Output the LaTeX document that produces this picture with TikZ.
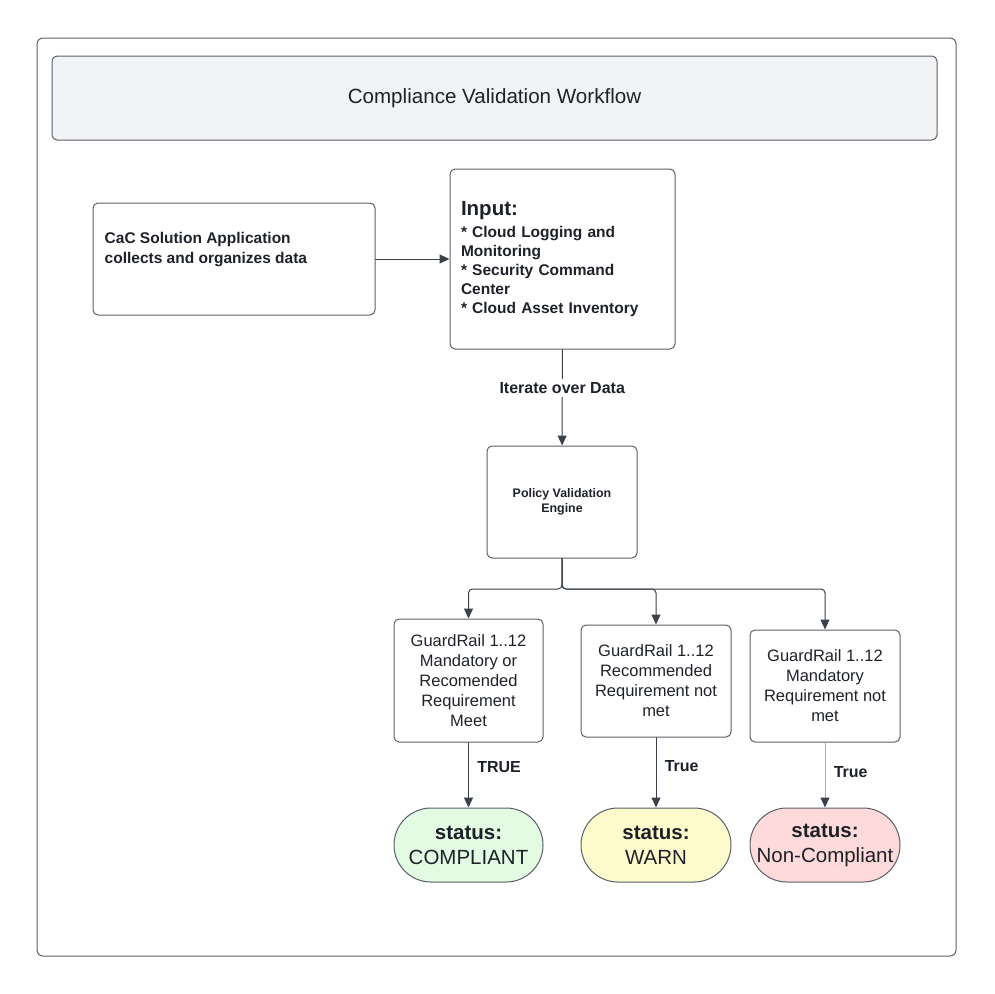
\documentclass[tikz,border=0pt]{standalone}
\usepackage{fontspec}
\setmainfont{Liberation Sans}
\usetikzlibrary{arrows.meta}
\definecolor{linec}{HTML}{3A414A}
\definecolor{faintc}{HTML}{A9ADB2}
\definecolor{boxc}{HTML}{5A5F66}
\definecolor{txtc}{HTML}{1E2228}
\definecolor{titlefill}{HTML}{F2F3F5}
\definecolor{okfill}{HTML}{E3FAE3}
\definecolor{warnfill}{HTML}{FDFBCB}
\definecolor{badfill}{HTML}{FFDADA}
\begin{document}
\begin{tikzpicture}[x=1pt, y=-1pt, line join=round, line cap=round, >={Triangle[length=10pt,width=9pt,color=linec]},
 box/.style={draw=boxc, line width=1pt, rounded corners=5pt, inner sep=0pt, text=txtc, align=center},
 cond/.style={box, minimum width=150pt, font=\fontsize{16.5}{20}\selectfont},
 stat/.style={box, rounded corners=37pt, minimum width=150pt, minimum height=74pt, font=\fontsize{20.5}{25}\selectfont},
 lbl/.style={text=txtc, font=\bfseries\fontsize{16}{19}\selectfont},
 conn/.style={draw=linec, line width=1pt, ->}]
 \useasboundingbox (0,0) rectangle (994,994);
 \draw[draw=boxc, line width=1pt, rounded corners=6pt] (37,38) rectangle (956,956);
 \node[box, fill=titlefill, minimum width=885pt, minimum height=84pt, font=\fontsize{20.6}{24}\selectfont] (title) at (494.5,98) {Compliance Validation Workflow};

 \node[box, minimum width=282pt, minimum height=112pt] (cac) at (234,259) {};
 \node[anchor=north west, inner sep=0pt, align=left, text=txtc, font=\bfseries\fontsize{15.5}{19.5}\selectfont] (cactext) at ([shift={(12,30)}]cac.north west) {CaC Solution Application\\collects and organizes data};
 \node[box, minimum width=225pt, minimum height=180pt, text width=203pt, align=left, font=\bfseries\fontsize{15.5}{19}\selectfont] (input) at (562.5,259) {{\fontsize{20.5}{24}\selectfont Input:}\\[3pt]{}* Cloud Logging and\\Monitoring\\{}* Security Command\\Center\\{}* Cloud Asset Inventory};
 \node[box, minimum width=150pt, minimum height=112pt, font=\bfseries\fontsize{12.4}{15}\selectfont] (engine) at (562,502) {Policy Validation\\Engine};

 \node[cond, minimum width=149pt, minimum height=123pt] (g1) at (468.5,680.5) {GuardRail 1..12\\Mandatory or\\Recomended\\Requirement\\Meet};
 \node[cond, minimum height=112pt] (g2) at (656,681) {GuardRail 1..12\\Recommended\\Requirement not\\met};
 \node[cond, minimum height=112pt] (g3) at (825,686) {GuardRail 1..12\\Mandatory\\Requirement not\\met};

 \node[stat, minimum width=149pt, fill=okfill] (s1) at (468.5,845) {{\bfseries status:}\\COMPLIANT};
 \node[stat, fill=warnfill] (s2) at (656,845) {{\bfseries status:}\\WARN};
 \node[stat, fill=badfill] (s3) at (825,845) {{\bfseries status:}\\Non-Compliant};

 \coordinate (fork) at (562,589);
 \draw[conn] (cac) -- (input);
 \draw[conn] (input) -- node[lbl, pos=.4, fill=white] (iter) {Iterate over Data} (engine);
 \foreach \i in {1,2,3}
  \draw[conn, rounded corners=4pt] (engine.south) -- (fork) -| (g\i.north);
 \foreach \i/\t/\p/\c in {1/TRUE/.38/linec, 2/True/.41/linec, 3/True/.45/faintc}
  \draw[conn, draw=\c] (g\i) -- node[lbl, pos=\p, right=5pt] (t\i) {\t} (s\i);
\end{tikzpicture}
\end{document}
